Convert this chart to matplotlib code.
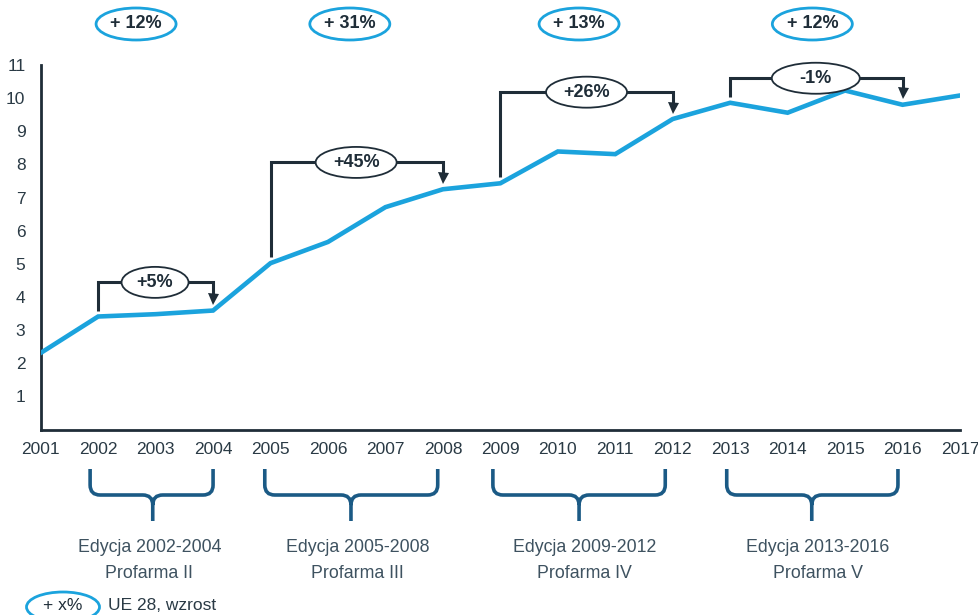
import numpy as np
import matplotlib.pyplot as plt
from matplotlib.patches import Ellipse, PathPatch
from matplotlib.path import Path

plt.rcParams['font.family'] = ['Liberation Sans', 'DejaVu Sans']

# data
years = np.arange(2001, 2018)
values = [2.31, 3.41, 3.48, 3.59, 5.02, 5.66, 6.71, 7.25, 7.43,
          8.39, 8.31, 9.37, 9.86, 9.56, 10.23, 9.80, 10.08]

# growth between first and last year of each edition
period_start = [2002, 2005, 2009, 2013]
period_end = [2004, 2008, 2012, 2016]
period_growth = ['+5%', '+45%', '+26%', '-1%']
eu_growth = ['+ 12%', '+ 31%', '+ 13%', '+ 12%']
edition_labels = ['Edycja 2002-2004', 'Edycja 2005-2008',
                  'Edycja 2009-2012', 'Edycja 2013-2016']
profarma_labels = ['Profarma II', 'Profarma III', 'Profarma IV', 'Profarma V']

LINE = '#1ba3dd'
DARK = '#1f2d38'
BRACE = '#1b5a85'
GREY = '#3e5260'

W, H = 979, 615
fig = plt.figure(figsize=(W / 100, H / 100), dpi=100)
ax = fig.add_axes([40.7 / W, 1 - 429.5 / H, (960 - 40.7) / W, (429.5 - 65) / H])
ax.set_xlim(2001, 2017)
ax.set_ylim(0, 11)

# pixel -> data size helpers
px_x = 16 / (960 - 40.7)
px_y = 11 / (429.5 - 65)

ax.plot(years, values, color=LINE, lw=3.3, solid_joinstyle='miter', zorder=3)

for s in ['top', 'right']:
    ax.spines[s].set_visible(False)
for s in ['left', 'bottom']:
    ax.spines[s].set_color(DARK)
    ax.spines[s].set_linewidth(2)
ax.set_xticks(years)
ax.set_yticks(range(1, 12))
ax.tick_params(length=0, labelsize=12.5, colors='#2a3a45')
ax.tick_params(axis='x', pad=9)
ax.tick_params(axis='y', pad=11)

# bracket annotations over the line
levels = [4.44, 8.06, 10.18, 10.6]
ell_x = [2002.99, 2006.49, 2010.5, 2014.49]
ell_w = [67, 81, 81, 88]
head = 11  # arrow head size in px
for i in range(4):
    x0, x1 = period_start[i], period_end[i]
    y0 = values[x0 - 2001] + 0.18
    y1 = values[x1 - 2001] + 0.18
    lv = levels[i]
    ax.plot([x0, x0, x1, x1], [y0, lv, lv, y1 + head * px_y * 0.8],
            color=DARK, lw=2.2, solid_joinstyle='miter',
            solid_capstyle='butt', zorder=4, clip_on=False)
    ax.plot([x1], [y1 + head * px_y / 2], marker='v', ms=head * 0.72,
            color=DARK, mew=0, zorder=4, clip_on=False)
    ax.add_patch(Ellipse((ell_x[i], lv), ell_w[i] * px_x, 31 * px_y,
                         facecolor='white', edgecolor=DARK, lw=1.3,
                         clip_on=False, zorder=5))
    ax.text(ell_x[i], lv, period_growth[i], ha='center', va='center',
            fontsize=13, fontweight='bold', color=DARK, zorder=6)

# EU growth ovals on top
top_x = [2002.66, 2006.38, 2010.37, 2014.43]
top_y = 11 + (65 - 24) * px_y
for i in range(4):
    ax.add_patch(Ellipse((top_x[i], top_y), 80 * px_x, 32 * px_y,
                         facecolor='white', edgecolor=LINE, lw=2,
                         clip_on=False, zorder=5))
    ax.text(top_x[i], top_y, eu_growth[i], ha='center', va='center',
            fontsize=13, fontweight='bold', color=DARK, clip_on=False,
            family=['Liberation Sans Narrow', 'Liberation Sans'], zorder=6)


# braces under the axis
def brace(x0, x1, xc, yt, yb, ys):
    rx, ry = 10 * px_x, 10 * px_y
    verts = [(x0, yt), (x0, yb + ry), (x0, yb), (x0 + rx, yb),
             (xc - rx, yb), (xc, yb), (xc, yb - ry), (xc, ys),
             (x1, yt), (x1, yb + ry), (x1, yb), (x1 - rx, yb),
             (xc + rx, yb), (xc, yb), (xc, yb - ry)]
    codes = [Path.MOVETO, Path.LINETO, Path.CURVE3, Path.CURVE3,
             Path.LINETO, Path.CURVE3, Path.CURVE3, Path.LINETO,
             Path.MOVETO, Path.LINETO, Path.CURVE3, Path.CURVE3,
             Path.LINETO, Path.CURVE3, Path.CURVE3]
    ax.add_patch(PathPatch(Path(verts, codes), facecolor='none',
                           edgecolor=BRACE, lw=2.6, clip_on=False,
                           capstyle='butt'))


def py(p):
    return (429.5 - p) * px_y


brace_x0 = [2001.86, 2004.90, 2008.87, 2012.94]
brace_x1 = [2004.00, 2007.91, 2011.87, 2015.92]
brace_xc = [2002.95, 2006.40, 2010.37, 2014.42]
text_x = [2002.89, 2006.51, 2010.46, 2014.53]
for i in range(4):
    brace(brace_x0[i], brace_x1[i], brace_xc[i], py(469), py(495), py(521))
    ax.text(text_x[i], py(547), edition_labels[i], ha='center', va='center',
            fontsize=12.8, color=GREY, clip_on=False)
    ax.text(text_x[i], py(573), profarma_labels[i], ha='center', va='center',
            fontsize=12.8, color=GREY, clip_on=False)

# legend
lx = 2001 + (63 - 40.7) * px_x
ax.add_patch(Ellipse((lx, py(607)), 73 * px_x, 30 * px_y, facecolor='white',
                     edgecolor=LINE, lw=2, clip_on=False))
ax.text(lx, py(606), '+ x%', ha='center', va='center', fontsize=12.5,
        color=DARK, clip_on=False)
ax.text(2001 + (108 - 40.7) * px_x, py(606), 'UE 28, wzrost', ha='left',
        va='center', fontsize=12.5, color='#2a3a45', clip_on=False)

fig.savefig('out.png', dpi=100)
